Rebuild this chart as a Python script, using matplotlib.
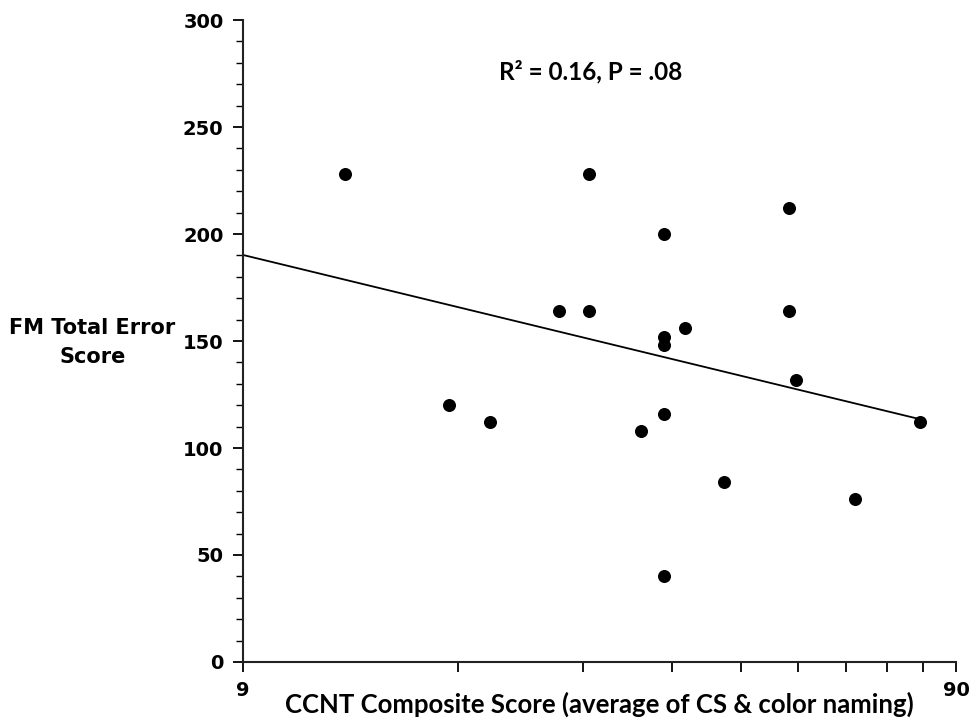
import numpy as np
import matplotlib.pyplot as plt
from matplotlib.ticker import FixedLocator, NullFormatter

# Данные
ccnt = [12.5, 17.5, 20.0, 25.0, 27.5, 27.5, 32.5, 35.0, 35.0, 35.0, 35.0, 35.0,
        37.5, 42.5, 52.5, 52.5, 53.75, 65.0, 80.0]
fm_err = [228, 120, 112, 164, 164, 228, 108, 200, 152, 148, 116, 40,
          156, 84, 212, 164, 132, 76, 112]

x = np.array(ccnt)
y = np.array(fm_err)

# Логарифмическая линия тренда y = a*ln(x) + b
a, b = np.polyfit(np.log(x), y, 1)
xt = np.linspace(9, x.max(), 200)
yt = a * np.log(xt) + b

fig = plt.figure(figsize=(9.71, 7.25), dpi=100)
ax = fig.add_axes([0.2503, 0.0869, 0.7343, 0.8855])

ax.scatter(x, y, s=70, color='black', zorder=3)
ax.plot(xt, yt, color='black', linewidth=1.3)

ax.set_xscale('log')
ax.set_xlim(9, 90)
ax.set_ylim(0, 300)

ax.xaxis.set_major_locator(FixedLocator([9, 90]))
ax.xaxis.set_minor_locator(FixedLocator([18, 27, 36, 45, 54, 63, 72, 81]))
ax.xaxis.set_minor_formatter(NullFormatter())
ax.set_xticklabels(['9', '90'])
ax.set_yticks(np.arange(0, 301, 50))
ax.set_yticks(np.arange(0, 301, 10), minor=True)

for s in ['top', 'right']:
    ax.spines[s].set_visible(False)
for s in ['left', 'bottom']:
    ax.spines[s].set_linewidth(1.5)
    ax.spines[s].set_color('#222222')

ax.tick_params(axis='x', which='major', length=7, width=1.3, pad=7, labelsize=14)
ax.tick_params(axis='x', which='minor', length=7, width=1.3)
ax.tick_params(axis='y', which='major', length=7, width=1.3, pad=7, labelsize=14)
ax.tick_params(axis='y', which='minor', length=5, width=1.0)
for lbl in ax.get_xticklabels() + ax.get_yticklabels():
    lbl.set_fontweight('bold')

ax.set_xlabel('CCNT Composite Score (average of CS & color naming)',
              fontsize=18.5, fontweight='bold', family='Lato', labelpad=-6)
fig.text(0.095, 0.528, 'FM Total Error\nScore', ha='center', va='center',
         fontsize=15, fontweight='bold', linespacing=1.55)
ax.text(0.488, 0.919, 'R² = 0.16, P = .08', transform=ax.transAxes,
        ha='center', va='center', fontsize=17.5, fontweight='bold', family='Lato')

plt.savefig('out.png', dpi=100)
